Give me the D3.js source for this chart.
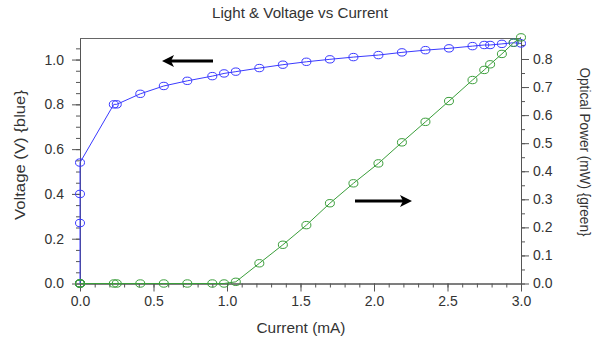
<!DOCTYPE html>
<html>
<head>
<meta charset="utf-8">
<script src="https://cdn.jsdelivr.net/npm/d3@7"></script>
<style>
  body { margin: 0; background: #fff; }
  svg { display: block; font-family: "Liberation Sans", Arial, sans-serif; }
</style>
</head>
<body>
<svg id="chart" width="594" height="343"></svg>
<script>
// chart data
const current = [0, 0, 0, 0, 0.23, 0.25, 0.41, 0.57, 0.73, 0.90, 0.98, 1.06, 1.22, 1.38, 1.54, 1.70, 1.86, 2.03, 2.19, 2.35, 2.51, 2.67, 2.75, 2.79, 2.87, 2.95, 3.0];
const voltage = [0, 0.27, 0.40, 0.54, 0.80, 0.80, 0.847, 0.882, 0.905, 0.926, 0.938, 0.946, 0.962, 0.977, 0.99, 1.001, 1.011, 1.02, 1.032, 1.042, 1.05, 1.06, 1.065, 1.065, 1.07, 1.075, 1.072];
const power = [0, 0, 0, 0, 0, 0, 0, 0, 0, 0, 0, 0.006, 0.072, 0.138, 0.208, 0.286, 0.357, 0.428, 0.503, 0.576, 0.650, 0.725, 0.761, 0.781, 0.818, 0.858, 0.877];
const xTicks = [0, 0.5, 1.0, 1.5, 2.0, 2.5, 3.0];
const leftTicks = [0, 0.2, 0.4, 0.6, 0.8, 1.0];
const rightTicks = [0, 0.1, 0.2, 0.3, 0.4, 0.5, 0.6, 0.7, 0.8];

const svg = d3.select('#chart');
const plotL = 80, plotR = 521, plotT = 38.5, plotB = 283.5;
const axisColor = '#555', textColor = '#333';
const blue = '#3a3aff', green = '#3a9e3a';

const x = d3.scaleLinear().domain([0, 3]).range([plotL, plotR]);
const yL = d3.scaleLinear().domain([0, 1.094]).range([plotB, plotT]);
const yR = d3.scaleLinear().domain([0, 0.873]).range([plotB, plotT]);

// title
svg.append('text').attr('x', 300).attr('y', 18).attr('text-anchor', 'middle')
  .attr('font-size', 14).attr('fill', textColor)
  .attr('textLength', 176).attr('lengthAdjust', 'spacingAndGlyphs')
  .text('Light & Voltage vs Current');

// top border
svg.append('line').attr('x1', plotL).attr('x2', plotR).attr('y1', plotT).attr('y2', plotT)
  .attr('stroke', '#666').attr('stroke-width', 1);

function styleAxis(g) {
  g.selectAll('path, line').attr('stroke', axisColor);
  g.selectAll('text').attr('fill', textColor).attr('font-size', 14).attr('font-family', '"Liberation Sans", Arial, sans-serif');
}

// minor ticks first, major on top
const xMinor = d3.range(0, 3.001, 0.1);
svg.append('g').attr('transform', `translate(0,${plotB})`)
  .call(d3.axisBottom(x).tickValues(xMinor).tickSize(4).tickFormat('').tickSizeOuter(0))
  .call(styleAxis);
svg.append('g').attr('transform', `translate(0,${plotB})`)
  .call(d3.axisBottom(x).tickValues(xTicks).tickSize(8).tickPadding(5).tickFormat(d3.format('.1f')).tickSizeOuter(0))
  .call(styleAxis);

const lMinor = d3.range(0, 1.0901, 0.05);
svg.append('g').attr('transform', `translate(${plotL},0)`)
  .call(d3.axisLeft(yL).tickValues(lMinor).tickSize(4).tickFormat('').tickSizeOuter(0))
  .call(styleAxis);
svg.append('g').attr('transform', `translate(${plotL},0)`)
  .call(d3.axisLeft(yL).tickValues(leftTicks).tickSize(8).tickPadding(8).tickFormat(d3.format('.1f')).tickSizeOuter(0))
  .call(styleAxis);

const rMinor = d3.range(0, 0.8701, 0.05);
svg.append('g').attr('transform', `translate(${plotR},0)`)
  .call(d3.axisRight(yR).tickValues(rMinor).tickSize(4).tickFormat('').tickSizeOuter(0))
  .call(styleAxis);
svg.append('g').attr('transform', `translate(${plotR},0)`)
  .call(d3.axisRight(yR).tickValues(rightTicks).tickSize(8).tickPadding(4).tickFormat(d3.format('.1f')).tickSizeOuter(0))
  .call(styleAxis);

// axis titles
svg.append('text').attr('x', 301).attr('y', 333).attr('text-anchor', 'middle')
  .attr('font-size', 15).attr('fill', textColor)
  .attr('textLength', 89).attr('lengthAdjust', 'spacingAndGlyphs')
  .text('Current (mA)');
svg.append('text').attr('transform', 'translate(25,155) rotate(-90)').attr('text-anchor', 'middle')
  .attr('font-size', 15).attr('fill', textColor)
  .attr('textLength', 130).attr('lengthAdjust', 'spacingAndGlyphs')
  .text('Voltage (V) {blue}');
svg.append('text').attr('transform', 'translate(580,152) rotate(90)').attr('text-anchor', 'middle')
  .attr('font-size', 15).attr('fill', textColor)
  .attr('textLength', 169).attr('lengthAdjust', 'spacingAndGlyphs')
  .text('Optical Power (mW) {green}');

// series
function drawSeries(values, yScale, color) {
  const pts = current.map((c, i) => [c, values[i]]);
  svg.append('path').datum(pts)
    .attr('fill', 'none').attr('stroke', color).attr('stroke-width', 1)
    .attr('d', d3.line().x(d => x(d[0])).y(d => yScale(d[1])));
  svg.append('g').selectAll('ellipse').data(pts).join('ellipse')
    .attr('cx', d => x(d[0])).attr('cy', d => yScale(d[1]))
    .attr('rx', 4.5).attr('ry', 3.7)
    .attr('fill', 'none').attr('stroke', color).attr('stroke-width', 1);
}
drawSeries(voltage, yL, blue);
drawSeries(power, yR, green);

// arrows pointing at the axes
function arrow(x1, x2, y) {
  const dir = Math.sign(x2 - x1);
  svg.append('line').attr('x1', x1).attr('x2', x2 - dir * 6).attr('y1', y).attr('y2', y)
    .attr('stroke', '#000').attr('stroke-width', 3);
  svg.append('path')
    .attr('d', `M${x2},${y} L${x2 - dir * 12},${y - 6} L${x2 - dir * 9},${y} L${x2 - dir * 12},${y + 6} Z`)
    .attr('fill', '#000');
}
arrow(213, 162, 61);
arrow(355, 412, 201);
</script>
</body>
</html>
